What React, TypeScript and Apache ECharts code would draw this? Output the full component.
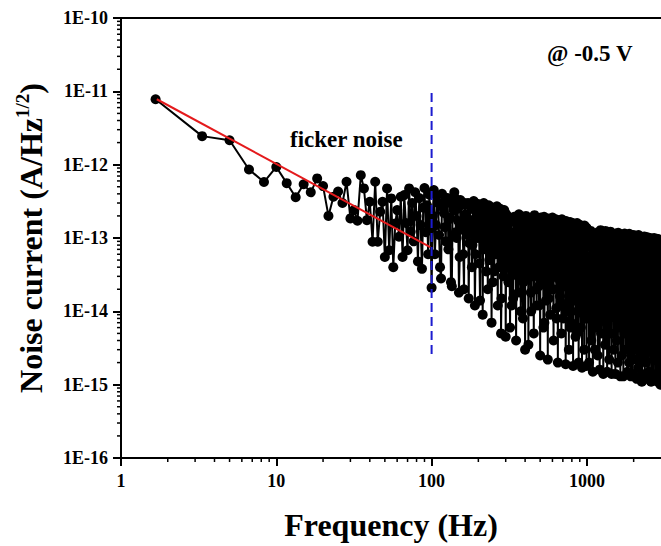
import React, { useEffect, useRef } from "react";
import * as echarts from "echarts";

const FONT = '"Liberation Serif", "Times New Roman", Times, serif';

// Noise spectrum, frequency in Hz, noise current in fA/Hz^1/2 (1E-15 A/Hz^1/2)
const freqA = [1.67, 3.33, 5, 6.67, 8.33, 10, 11.67, 13.33, 15, 16.67, 18.33, 20, 21.67, 23.33, 25, 26.67, 28.33, 30, 31.67, 33.33, 35, 36.67, 38.33, 40, 41.67, 43.33, 45, 46.67, 48.33, 50, 51.67, 53.33, 55, 56.67, 58.33, 60, 61.67, 63.33, 65, 66.67, 68.33, 70, 71.67, 73.33, 75, 76.67, 78.33, 80, 81.67, 83.33, 85, 86.67, 88.33, 90, 91.67, 93.33, 95, 96.67, 98.33, 100];
const noiseA = [7800, 2450, 2150, 860, 580, 930, 560, 360, 540, 420, 650, 510, 200, 365, 430, 300, 585, 185, 240, 172, 720, 475, 175, 312, 89, 585, 89, 228, 312, 55, 475, 68, 347, 40, 158, 240, 104, 365, 55, 385, 160, 68, 475, 122, 300, 90, 420, 200, 48, 350, 150, 38, 260, 480, 120, 280, 60, 390, 180, 21];

const freqB = [103.3, 106.7, 110, 113.3, 116.7, 120, 123.3, 126.7, 130, 133.3, 136.7, 140, 143.3, 146.7, 150, 153.3, 156.7, 160, 163.3, 166.7, 170, 173.3, 176.7, 180, 183.3, 186.7, 190, 193.3, 196.7, 200, 203.3, 206.7, 210, 213.3, 216.7, 220, 223.3, 226.7, 230, 233.3, 236.7, 240, 243.3, 246.7, 250, 253.3, 256.7, 260, 263.3, 266.7, 270, 273.3, 276.7, 280, 283.3, 286.7, 290, 293.3, 296.7, 300];
const noiseB = [450, 150, 300, 40, 400, 220, 90, 350, 180, 25, 280, 420, 120, 250, 18, 330, 160, 60, 300, 200, 110, 15, 270, 170, 80, 320, 12, 230, 130, 290, 45, 250, 150, 9, 300, 200, 70, 240, 20, 280, 110, 210, 7, 260, 160, 35, 230, 95, 270, 12, 190, 65, 250, 5, 210, 130, 30, 240, 100, 4.5];
const freqB2 = [101.7, 105, 108.3, 111.7, 115, 118.3, 121.7, 125, 128.3, 131.7, 135, 138.3, 141.7, 145, 148.3, 151.7, 155, 158.3, 161.7, 165, 168.3, 171.7, 175, 178.3, 181.7, 185, 188.3, 191.7, 195, 198.3, 201.7, 205, 208.3, 211.7, 215, 218.3, 221.7, 225, 228.3, 231.7, 235, 238.3, 241.7, 245, 248.3, 251.7, 255, 258.3, 261.7, 265, 268.3, 271.7, 275, 278.3, 281.7, 285, 288.3, 291.7, 295, 298.3];
const noiseB2 = [200, 60, 380, 110, 28, 260, 140, 330, 70, 190, 22, 240, 350, 100, 170, 55, 280, 130, 20, 210, 160, 300, 85, 140, 40, 250, 180, 60, 220, 100, 270, 14, 190, 120, 230, 75, 160, 35, 210, 130, 50, 240, 110, 180, 25, 200, 140, 60, 220, 90, 170, 40, 150, 230, 15, 190, 100, 55, 160, 220];

const freqC = [305, 310, 315, 320, 325, 330, 335, 340, 345, 350, 355, 360, 365, 370, 375, 380, 385, 390, 395, 400,
  405, 410, 415, 420, 425, 430, 435, 440, 445, 450, 455, 460, 465, 470, 475, 480, 485, 490, 495, 500,
  505, 510, 515, 520, 525, 530, 535, 540, 545, 550, 555, 560, 565, 570, 575, 580, 585, 590, 595, 600,
  605, 610, 615, 620, 625, 630, 635, 640, 645, 650, 655, 660, 665, 670, 675, 680, 685, 690, 695, 700,
  705, 710, 715, 720, 725, 730, 735, 740, 745, 750, 755, 760, 765, 770, 775, 780, 785, 790, 795, 800,
  805, 810, 815, 820, 825, 830, 835, 840, 845, 850, 855, 860, 865, 870, 875, 880, 885, 890, 895, 900,
  905, 910, 915, 920, 925, 930, 935, 940, 945, 950, 955, 960, 965, 970, 975, 980, 985, 990, 995, 1000];
const noiseC = [205, 40, 120, 6, 170, 70, 15, 195, 90, 4, 150, 30, 210, 55, 10, 180, 100, 25, 160, 3,
  200, 45, 130, 3.5, 165, 80, 18, 190, 60, 110, 5, 205, 35, 140, 12, 180, 75, 22, 155, 2.5,
  190, 95, 28, 150, 6, 195, 50, 120, 14, 175, 70, 2.2, 185, 40, 135, 9, 165, 85, 20, 190,
  60, 4, 150, 110, 30, 180, 11, 165, 45, 2, 125, 175, 65, 16, 155, 90, 5, 180, 35, 140,
  8, 165, 75, 24, 120, 1.9, 170, 50, 145, 13, 100, 160, 3, 130, 40, 165, 85, 7, 150, 28,
  115, 160, 1.8, 70, 135, 18, 155, 55, 4.5, 140, 95, 32, 160, 10, 120, 60, 2, 150, 80, 22,
  150, 45, 6, 130, 100, 1.7, 145, 65, 15, 140, 88, 3, 148, 38, 115, 8, 140, 75, 1.8, 135];
const freqC2 = [302.5, 307.5, 312.5, 317.5, 322.5, 327.5, 332.5, 337.5, 342.5, 347.5, 352.5, 357.5, 362.5, 367.5, 372.5, 377.5, 382.5, 387.5, 392.5, 397.5,
  402.5, 407.5, 412.5, 417.5, 422.5, 427.5, 432.5, 437.5, 442.5, 447.5, 452.5, 457.5, 462.5, 467.5, 472.5, 477.5, 482.5, 487.5, 492.5, 497.5,
  502.5, 507.5, 512.5, 517.5, 522.5, 527.5, 532.5, 537.5, 542.5, 547.5, 552.5, 557.5, 562.5, 567.5, 572.5, 577.5, 582.5, 587.5, 592.5, 597.5,
  602.5, 607.5, 612.5, 617.5, 622.5, 627.5, 632.5, 637.5, 642.5, 647.5, 652.5, 657.5, 662.5, 667.5, 672.5, 677.5, 682.5, 687.5, 692.5, 697.5,
  702.5, 707.5, 712.5, 717.5, 722.5, 727.5, 732.5, 737.5, 742.5, 747.5, 752.5, 757.5, 762.5, 767.5, 772.5, 777.5, 782.5, 787.5, 792.5, 797.5,
  802.5, 807.5, 812.5, 817.5, 822.5, 827.5, 832.5, 837.5, 842.5, 847.5, 852.5, 857.5, 862.5, 867.5, 872.5, 877.5, 882.5, 887.5, 892.5, 897.5,
  902.5, 907.5, 912.5, 917.5, 922.5, 927.5, 932.5, 937.5, 942.5, 947.5, 952.5, 957.5, 962.5, 967.5, 972.5, 977.5, 982.5, 987.5, 992.5, 997.5];
const noiseC2 = [90, 150, 25, 60, 120, 12, 80, 170, 35, 110, 50, 140, 18, 75, 190, 40, 130, 8, 95, 60,
  150, 28, 100, 170, 45, 70, 130, 10, 85, 160, 30, 120, 55, 180, 20, 95, 140, 65, 12, 110,
  75, 160, 35, 120, 50, 90, 7, 140, 60, 25, 170, 85, 110, 15, 150, 45, 100, 30, 130, 55,
  140, 20, 95, 160, 40, 75, 120, 8, 65, 150, 28, 105, 50, 170, 12, 85, 130, 38, 100, 60,
  120, 45, 150, 22, 85, 130, 10, 70, 160, 32, 100, 55, 140, 16, 90, 120, 6, 75, 145, 40,
  95, 25, 130, 60, 150, 14, 80, 115, 35, 100, 150, 5, 70, 135, 45, 90, 20, 140, 55, 110,
  65, 130, 12, 100, 40, 145, 75, 25, 120, 55, 9, 135, 80, 30, 110, 140, 50, 18, 125, 90];

const freqD = [1008, 1017, 1025, 1033, 1042, 1050, 1058, 1067, 1075, 1083, 1092, 1100, 1108, 1117, 1125, 1133, 1142, 1150, 1158, 1167,
  1175, 1183, 1192, 1200, 1208, 1217, 1225, 1233, 1242, 1250, 1258, 1267, 1275, 1283, 1292, 1300, 1308, 1317, 1325, 1333,
  1342, 1350, 1358, 1367, 1375, 1383, 1392, 1400, 1408, 1417, 1425, 1433, 1442, 1450, 1458, 1467, 1475, 1483, 1492, 1500,
  1508, 1517, 1525, 1533, 1542, 1550, 1558, 1567, 1575, 1583, 1592, 1600, 1608, 1617, 1625, 1633, 1642, 1650, 1658, 1667,
  1675, 1683, 1692, 1700, 1708, 1717, 1725, 1733, 1742, 1750, 1758, 1767, 1775, 1783, 1792, 1800, 1808, 1817, 1825, 1833,
  1842, 1850, 1858, 1867, 1875, 1883, 1892, 1900, 1908, 1917, 1925, 1933, 1942, 1950, 1958, 1967, 1975, 1983, 1992, 2000,
  2008, 2017, 2025, 2033, 2042, 2050, 2058, 2067, 2075, 2083, 2092, 2100, 2108, 2117, 2125, 2133, 2142, 2150, 2158, 2167,
  2175, 2183, 2192, 2200, 2208, 2217, 2225, 2233, 2242, 2250, 2258, 2267, 2275, 2283, 2292, 2300, 2308, 2317, 2325, 2333,
  2342, 2350, 2358, 2367, 2375, 2383, 2392, 2400, 2408, 2417, 2425, 2433, 2442, 2450, 2458, 2467, 2475, 2483, 2492, 2500,
  2508, 2517, 2525, 2533, 2542, 2550, 2558, 2567, 2575, 2583, 2592, 2600, 2608, 2617, 2625, 2633, 2642, 2650, 2658, 2667,
  2675, 2683, 2692, 2700, 2708, 2717, 2725, 2733, 2742, 2750, 2758, 2767, 2775, 2783, 2792, 2800, 2808, 2817, 2825, 2833,
  2842, 2850, 2858, 2867, 2875, 2883, 2892, 2900, 2908, 2917, 2925, 2933, 2942, 2950, 2958, 2967, 2975, 2983, 2992, 3000];
const noiseD = [130, 8, 55, 2, 95, 25, 125, 4, 40, 80, 1.5, 110, 15, 65, 3, 100, 30, 6, 90, 48,
  2.5, 120, 12, 72, 1.6, 45, 128, 5, 35, 95, 10, 60, 1.4, 105, 20, 80, 3.5, 125, 52, 7,
  88, 1.5, 40, 115, 15, 68, 2.2, 100, 28, 122, 5, 58, 1.4, 85, 22, 110, 9, 48, 3, 102,
  35, 78, 1.4, 115, 12, 60, 4, 92, 45, 2, 118, 18, 72, 6, 105, 30, 1.3, 88, 52, 10,
  112, 2.5, 65, 25, 98, 1.3, 80, 40, 5, 115, 15, 58, 3, 95, 20, 108, 8, 48, 1.5, 85,
  102, 12, 68, 2, 114, 35, 6, 88, 52, 1.3, 106, 18, 76, 4, 95, 28, 1.4, 110, 45, 9,
  65, 98, 2.2, 48, 108, 14, 80, 3, 92, 25, 1.2, 102, 58, 7, 85, 38, 1.7, 110, 20, 72,
  5, 95, 42, 1.3, 104, 16, 65, 3.5, 88, 30, 1.1, 100, 52, 10, 80, 2.5, 96, 22, 60, 6,
  105, 35, 1.4, 84, 46, 12, 98, 2, 72, 26, 92, 4, 56, 1.2, 102, 18, 76, 8, 94, 40,
  1.5, 88, 30, 64, 2.8, 100, 14, 80, 5, 52, 1.1, 95, 24, 68, 3, 98, 44, 9, 84, 1.3,
  92, 20, 60, 2.2, 100, 36, 7, 80, 48, 1.2, 95, 15, 72, 4, 88, 28, 1.4, 98, 56, 11,
  76, 1.1, 88, 32, 6, 96, 44, 2, 80, 18, 1.2, 92, 52, 9, 84, 25, 1.0, 95, 64, 3];

// Flicker-noise fit (red) and 100 Hz marker (blue dashed), fA/Hz^1/2
const fitFreq = [1.7, 98];
const fitNoise = [7800, 75];
const cutFreq = [100, 100];
const cutNoise = [9500, 2.6];

// Axis ticks
const xMin = 1;
const xMax = 3000;
const yMin = 1e-16;
const yMax = 1e-10;
const xMinorTicks = [2, 3, 4, 5, 6, 7, 8, 9, 20, 30, 40, 50, 60, 70, 80, 90, 200, 300, 400, 500, 600, 700, 800, 900, 2000];
const yMinorMantissas = [2, 3, 4, 5, 6, 7, 8, 9];
const yDecades = [-16, -15, -14, -13, -12, -11];

const FA = 1e-15;

export default function App() {
  const ref = useRef<HTMLDivElement>(null);

  useEffect(() => {
    const chart = echarts.init(ref.current!, null, { renderer: "svg" });
    const pairs = (f: number[], n: number[]) => f.map((x, i) => [x, n[i] * FA]);
    const spectrum = [
      ...pairs(freqA, noiseA),
      ...pairs(freqB, noiseB),
      ...pairs(freqB2, noiseB2),
      ...pairs(freqC, noiseC),
      ...pairs(freqC2, noiseC2),
      ...pairs(freqD, noiseD),
    ].sort((p, q) => p[0] - q[0]);
    const yMinorTicks: number[] = [];
    yDecades.forEach((e) => yMinorMantissas.forEach((m) => yMinorTicks.push(m * Math.pow(10, e))));

    const labelStyle = { color: "#000", fontFamily: FONT, fontWeight: "bold" as const, fontSize: 18 };

    chart.setOption({
      animation: false,
      backgroundColor: "#fff",
      grid: { left: 121, right: 0, top: 18, bottom: 88 },
      xAxis: [
        {
          type: "log",
          logBase: 10,
          min: xMin,
          max: xMax,
          position: "bottom",
          axisLine: { show: true, onZero: false, lineStyle: { color: "#000", width: 2 } },
          axisTick: { show: true, length: 8, lineStyle: { color: "#000", width: 2 } },
          axisLabel: {
            ...labelStyle,
            margin: 14,
            showMaxLabel: false,
            formatter: (v: number) => String(Math.round(v)),
          },
          splitLine: { show: false },
          name: "Frequency (Hz)",
          nameLocation: "middle",
          nameGap: 51,
          nameTextStyle: { color: "#000", fontFamily: FONT, fontWeight: "bold", fontSize: 32 },
        },
        {
          type: "log",
          logBase: 10,
          min: xMin,
          max: xMax,
          position: "top",
          axisLine: { show: true, onZero: false, lineStyle: { color: "#000", width: 2 } },
          axisTick: { show: false },
          axisLabel: { show: false },
          splitLine: { show: false },
        },
      ],
      yAxis: {
        type: "log",
        logBase: 10,
        min: yMin,
        max: yMax,
        axisLine: { show: true, onZero: false, lineStyle: { color: "#000", width: 2 } },
        axisTick: { show: true, length: 8, lineStyle: { color: "#000", width: 2 } },
        axisLabel: {
          ...labelStyle,
          margin: 13,
          formatter: (v: number) => "1E" + Math.round(Math.log10(v)),
        },
        splitLine: { show: false },
        name: "{a|Noise current (A/Hz}{b|1/2}{a|)}",
        nameLocation: "middle",
        nameRotate: 90,
        nameGap: 72,
        nameTextStyle: {
          rich: {
            a: { color: "#000", fontFamily: FONT, fontWeight: "bold", fontSize: 32, lineHeight: 36 },
            b: { color: "#000", fontFamily: FONT, fontWeight: "bold", fontSize: 19, verticalAlign: "top", lineHeight: 36 },
          },
        },
      },
      graphic: [
        {
          type: "text",
          x: 290,
          y: 139,
          style: { text: "ficker noise", fill: "#000", fontFamily: FONT, fontWeight: "bold", fontSize: 23, verticalAlign: "middle" },
        },
        {
          type: "text",
          x: 547,
          y: 53,
          style: { text: "@ -0.5 V", fill: "#000", fontFamily: FONT, fontWeight: "bold", fontSize: 23, verticalAlign: "middle" },
        },
      ],
      series: [
        {
          type: "custom",
          silent: true,
          clip: false,
          z: 1,
          data: xMinorTicks.map((v) => [v, yMin]),
          renderItem: (_p: any, api: any) => {
            const pt = api.coord([api.value(0), api.value(1)]);
            return {
              type: "line",
              shape: { x1: pt[0], y1: pt[1], x2: pt[0], y2: pt[1] + 4 },
              style: { stroke: "#000", lineWidth: 1.5 },
            };
          },
        },
        {
          type: "custom",
          silent: true,
          clip: false,
          z: 1,
          data: yMinorTicks.map((v) => [xMin, v]),
          renderItem: (_p: any, api: any) => {
            const pt = api.coord([api.value(0), api.value(1)]);
            return {
              type: "line",
              shape: { x1: pt[0] - 4, y1: pt[1], x2: pt[0], y2: pt[1] },
              style: { stroke: "#000", lineWidth: 1.5 },
            };
          },
        },
        {
          type: "line",
          data: spectrum,
          symbol: "none",
          lineStyle: { color: "#000", width: 2 },
          z: 2,
          silent: true,
        },
        {
          type: "scatter",
          data: spectrum,
          symbol: "circle",
          symbolSize: 10,
          large: false,
          itemStyle: { color: "#000", borderWidth: 0, opacity: 1 },
          z: 2,
          silent: true,
        },
        {
          type: "line",
          data: fitFreq.map((f, i) => [f, fitNoise[i] * FA]),
          symbol: "none",
          lineStyle: { color: "#e41a1c", width: 2 },
          z: 3,
          silent: true,
        },
        {
          type: "line",
          data: cutFreq.map((f, i) => [f, cutNoise[i] * FA]),
          symbol: "none",
          lineStyle: { color: "#1c1ccf", width: 2, type: [9, 5] },
          z: 4,
          silent: true,
        },
      ],
    });
    return () => chart.dispose();
  }, []);

  return (
    <div
      ref={ref}
      style={{ position: "absolute", left: 0, top: 0, width: 661, height: 546, background: "#fff" }}
    />
  );
}
